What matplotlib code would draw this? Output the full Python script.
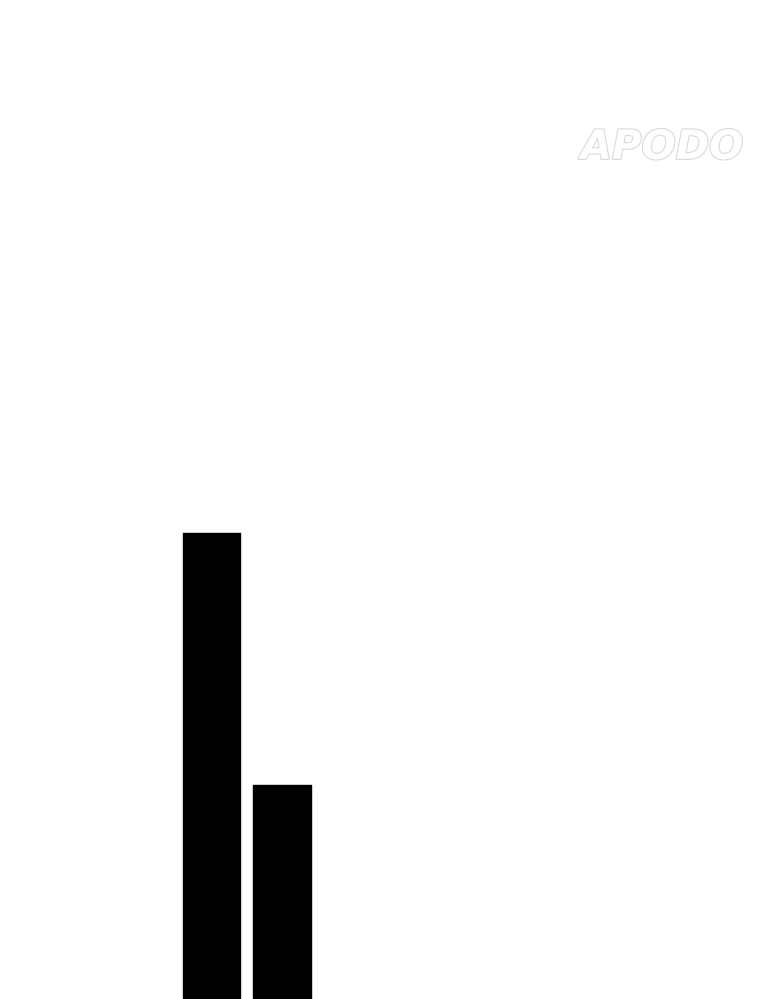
import matplotlib
matplotlib.use("Agg")
import matplotlib.pyplot as plt
import matplotlib.patheffects as pe

categories = ["A", "B"]
values = [100, 46]

fig = plt.figure(figsize=(7.6, 9.99), dpi=100)
ax = fig.add_axes([0, 0, 1, 1])
x = list(range(len(categories)))
ax.bar(x, values, width=0.817, color="black", edgecolor="black",
       linewidth=1, joinstyle="round")
ax.set_xlim(-3.0, 7.78)
ax.set_ylim(0, 214.4)
ax.axis("off")

# watermark logo, hollow letters
logo = fig.text(0.978, 0.852, "APODO", ha="right", va="center",
                fontsize=29, fontweight="bold", fontstyle="italic",
                color="white", family="DejaVu Sans")
logo.set_path_effects([pe.Stroke(linewidth=1.6, foreground="#d9d9d9"), pe.Normal()])

plt.savefig("out.png", dpi=100)
